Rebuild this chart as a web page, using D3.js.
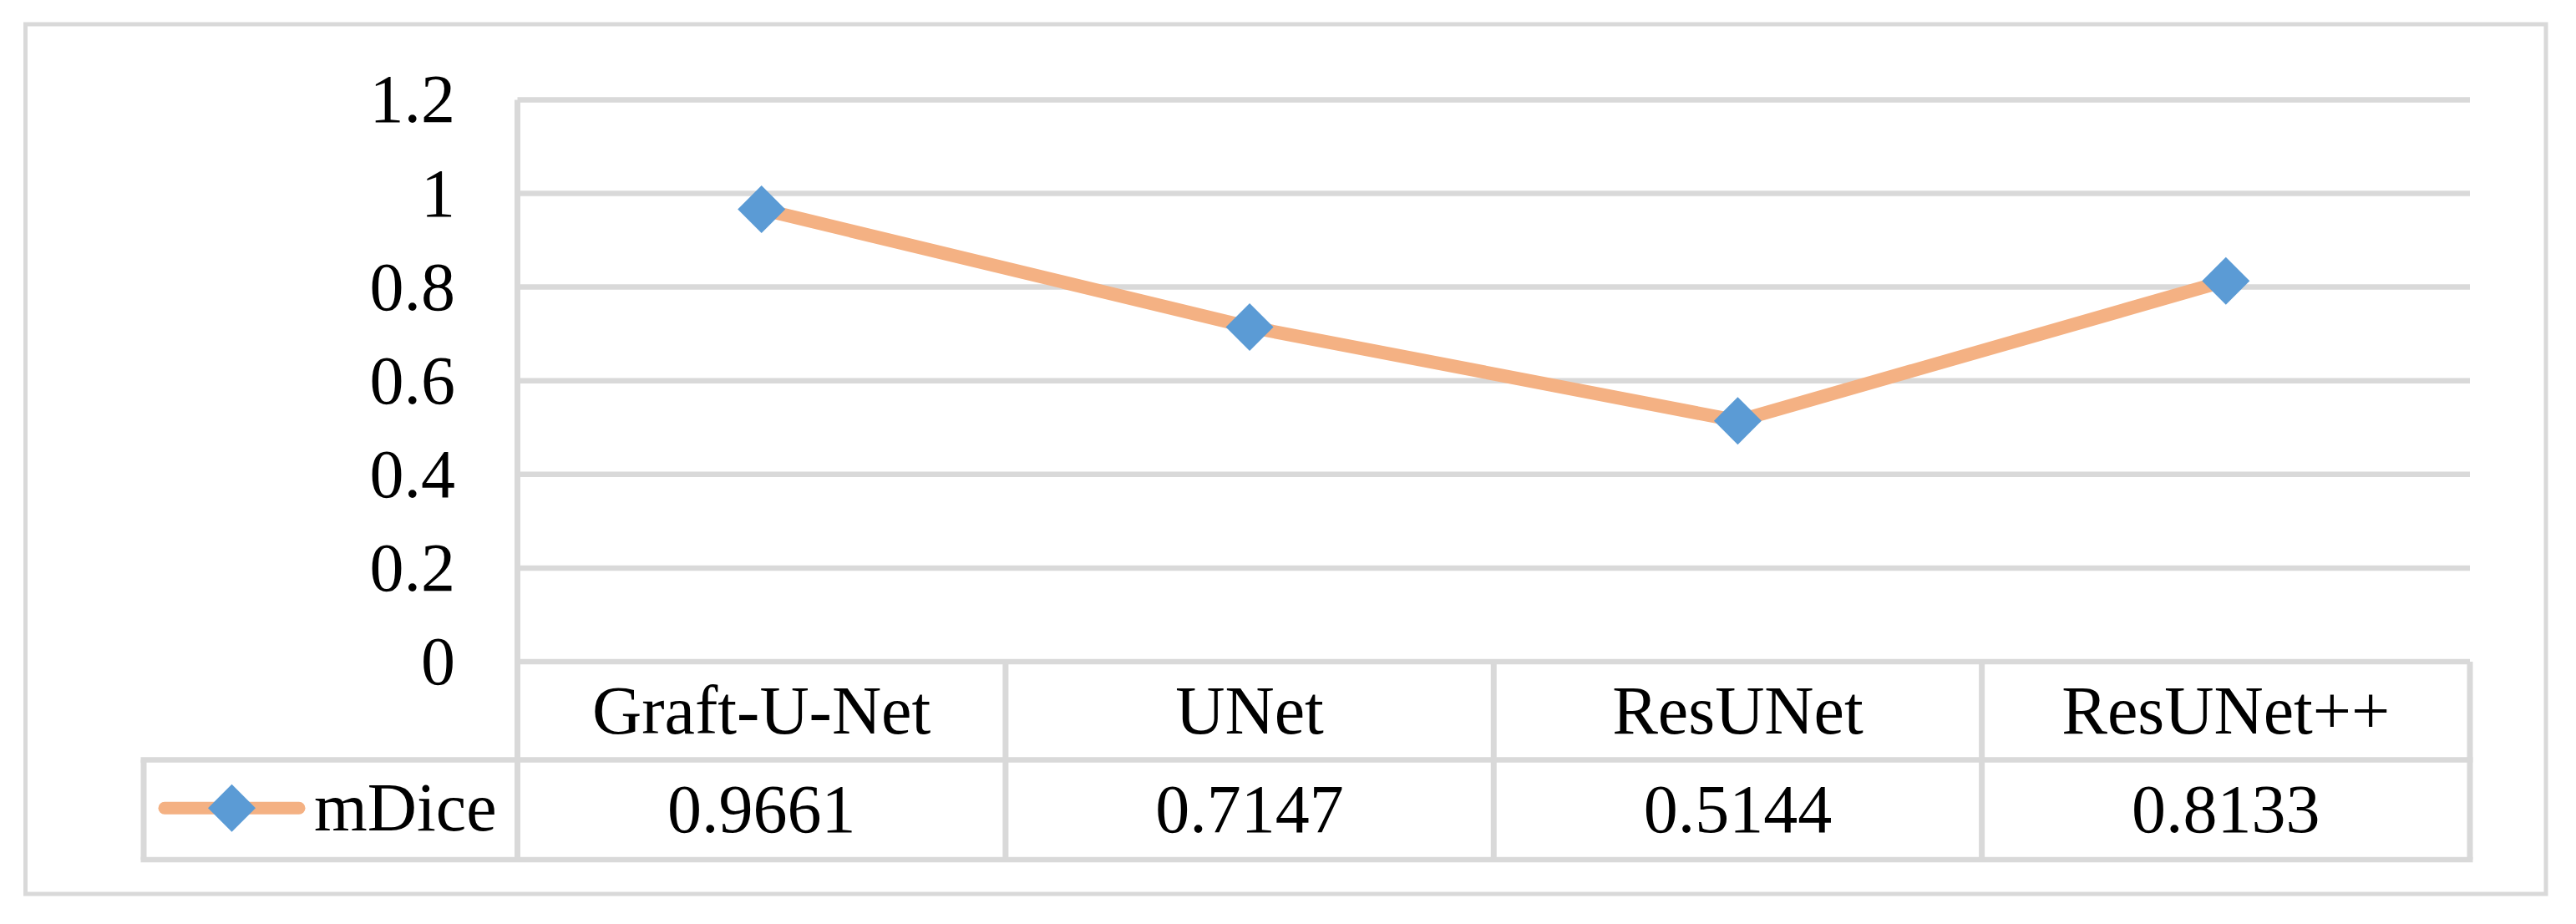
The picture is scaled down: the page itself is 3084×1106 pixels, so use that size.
<html>
<head>
<meta charset="utf8">
<title>mDice</title>
<style>
  body { margin: 0; background: #fff; }
  text { font-family: "Liberation Serif", "Times New Roman", serif; fill: #000; }
  .grid line, .table line { stroke: #d9d9d9; }
</style>
</head>
<body>
<svg width="3084" height="1106"></svg>
<script src="https://d3js.org/d3.v7.min.js"></script>
<script>
// chart data
var categories = ["Graft-U-Net", "UNet", "ResUNet", "ResUNet++"];
var mDice = [0.9661, 0.7147, 0.5144, 0.8133];
var valueLabels = ["0.9661", "0.7147", "0.5144", "0.8133"];
var yTicks = [0, 0.2, 0.4, 0.6, 0.8, 1, 1.2];
var seriesName = "mDice";

var svg = d3.select("svg");
var fontSize = 82;
var lineColor = "#f4b183", markerColor = "#5b9bd5";

// plot box (window.top is reserved, so prefixed names)
var plotLeft = 619.5, plotRight = 2957, plotTop = 119.4, plotBottom = 792;
var row1 = 909.5, row2 = 1029, legendLeft = 172;

var x = d3.scaleBand().domain(categories).range([plotLeft, plotRight]);
var y = d3.scaleLinear().domain([0, 1.2]).range([plotBottom, plotTop]);

// outer frame
svg.append("rect")
    .attr("x", 30.5).attr("y", 29)
    .attr("width", 3048 - 30.5).attr("height", 1070 - 29)
    .attr("fill", "none")
    .attr("stroke", "#d9d9d9")
    .attr("stroke-width", 5);

// horizontal gridlines
var grid = svg.append("g").attr("class", "grid");
grid.selectAll("line")
    .data(yTicks)
    .enter().append("line")
    .attr("x1", plotLeft).attr("x2", plotRight)
    .attr("y1", d => y(d)).attr("y2", d => y(d))
    .attr("stroke-width", 6.5);

// y tick labels
svg.append("g").selectAll("text")
    .data(yTicks)
    .enter().append("text")
    .attr("x", 545)
    .attr("y", d => y(d))
    .attr("dy", "0.33em")
    .attr("text-anchor", "end")
    .style("font-size", fontSize + "px")
    .text(d => d3.format("")(d));

// data table lines
var table = svg.append("g").attr("class", "table");
var vx = [plotLeft].concat(categories.map(c => x(c) + x.bandwidth()));
table.selectAll("line.v")
    .data(vx)
    .enter().append("line")
    .attr("x1", d => d).attr("x2", d => d)
    .attr("y1", (d, i) => i == 0 ? plotTop : plotBottom)
    .attr("y2", row2)
    .attr("stroke-width", 7);
table.append("line")
    .attr("x1", legendLeft).attr("x2", legendLeft)
    .attr("y1", row1).attr("y2", row2)
    .attr("stroke-width", 7);
[row1, row2].forEach(function(r) {
    table.append("line")
        .attr("x1", legendLeft - 3.5).attr("x2", plotRight + 3.5)
        .attr("y1", r).attr("y2", r)
        .attr("stroke-width", 6.5);
});

// category row
svg.append("g").selectAll("text")
    .data(categories)
    .enter().append("text")
    .attr("x", d => x(d) + x.bandwidth() / 2)
    .attr("y", (plotBottom + row1) / 2)
    .attr("dy", "0.33em")
    .attr("text-anchor", "middle")
    .style("font-size", fontSize + "px")
    .text(d => d);

// value row
svg.append("g").selectAll("text")
    .data(categories)
    .enter().append("text")
    .attr("x", d => x(d) + x.bandwidth() / 2)
    .attr("y", (row1 + row2) / 2)
    .attr("dy", "0.33em")
    .attr("text-anchor", "middle")
    .style("font-size", fontSize + "px")
    .text((d, i) => valueLabels[i]);

// series line
var line = d3.line()
    .x((d, i) => x(categories[i]) + x.bandwidth() / 2)
    .y(d => y(d));

svg.append("path")
    .datum(mDice)
    .attr("d", line)
    .attr("fill", "none")
    .attr("stroke", lineColor)
    .attr("stroke-width", 16)
    .attr("stroke-linejoin", "round");

var r = 28.5;
var diamond = "M0," + (-r) + "L" + r + ",0L0," + r + "L" + (-r) + ",0Z";

svg.append("g").selectAll("path")
    .data(mDice)
    .enter().append("path")
    .attr("d", diamond)
    .attr("transform", (d, i) => "translate(" + (x(categories[i]) + x.bandwidth() / 2) + "," + y(d) + ")")
    .attr("fill", markerColor);

// legend key inside table
var ly = (row1 + row2) / 2 - 2;
var legend = svg.append("g");
legend.append("line")
    .attr("x1", 197).attr("x2", 358)
    .attr("y1", ly).attr("y2", ly)
    .attr("stroke", lineColor)
    .attr("stroke-width", 15)
    .attr("stroke-linecap", "round");
legend.append("path")
    .attr("d", diamond)
    .attr("transform", "translate(277.5," + ly + ")")
    .attr("fill", markerColor);
legend.append("text")
    .attr("x", 376)
    .attr("y", (row1 + row2) / 2)
    .attr("dy", "0.3em")
    .style("font-size", fontSize + "px")
    .text(seriesName);
</script>
</body>
</html>
